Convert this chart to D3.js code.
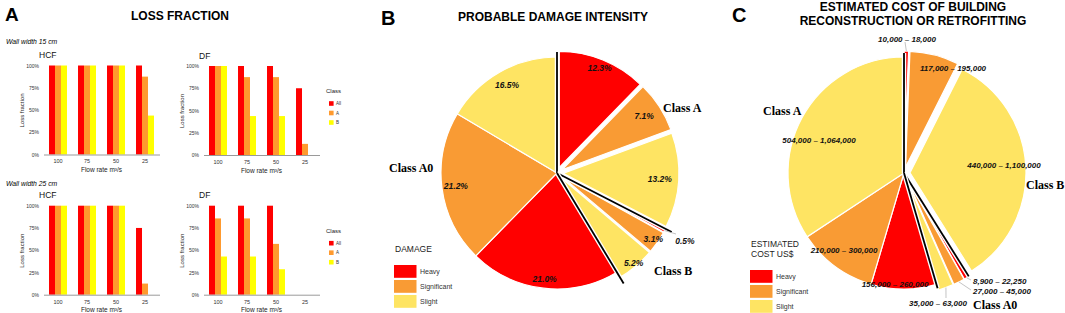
<!DOCTYPE html>
<html>
<head>
<meta charset="utf-8">
<script src="https://cdn.jsdelivr.net/npm/d3@7"></script>
<style>
  body { margin: 0; background: #fff; }
  svg { font-family: "Liberation Sans", Arial, sans-serif; }
</style>
</head>
<body>
<svg id="fig" width="1065" height="313"></svg>
<script>
// ---- panel A : loss fraction ----
var flowRates = ["100", "75", "50", "25"];
var lossClasses = ["All", "A", "B"];
var hcf15All = [1, 1, 1, 1];
var hcf15A   = [1, 1, 1, 0.875];
var hcf15B   = [1, 1, 1, 0.4375];
var df15All  = [1, 1, 1, 0.75];
var df15A    = [1, 0.875, 0.875, 0.125];
var df15B    = [1, 0.4375, 0.4375, 0];
var hcf25All = [1, 1, 1, 0.75];
var hcf25A   = [1, 1, 1, 0.125];
var hcf25B   = [1, 1, 1, 0];
var df25All  = [1, 1, 1, 0];
var df25A    = [0.857, 0.857, 0.571, 0];
var df25B    = [0.429, 0.429, 0.286, 0];
var lossTicks = [0, 0.25, 0.5, 0.75, 1];

// ---- panel B : probable damage intensity (%) ----
var damageLevels = ["Heavy", "Significant", "Slight"];
var damagePct = [12.3, 7.1, 13.2, 0.5, 3.1, 5.2, 21.0, 21.2, 16.5];
var damageGroups = ["Class A", "Class B", "Class A0"];

// ---- panel C : estimated cost (US$) ----
var costRanges = ["10,000 – 18,000", "117,000 – 195,000", "440,000 – 1,100,000",
                  "8,900 – 22,250", "27,000 – 45,000", "35,000 – 63,000",
                  "156,000 – 260,000", "210,000 – 300,000", "504,000 – 1,064,000"];
var costValues = [14000, 156000, 770000, 15575, 36000, 49000, 208000, 255000, 784000];
var costGroups = ["Class B", "Class A0", "Class A"];

var barColors = ["#ff0000", "#ff9a2e", "#ffff00"];
var pieColors = ["#ff0000", "#f99b34", "#fee463"];

var svg = d3.select("#fig");

function txt(x, y, s, size, opts) {
  opts = opts || {};
  return svg.append("text")
    .attr("x", x).attr("y", y)
    .attr("font-size", size)
    .attr("font-weight", opts.bold ? "bold" : null)
    .attr("font-style", opts.italic ? "italic" : null)
    .attr("font-family", opts.serif ? "'Liberation Serif', 'Times New Roman', serif" : null)
    .attr("text-anchor", opts.anchor || "start")
    .attr("fill", opts.fill || "#000")
    .text(s);
}

// panel letters and titles
txt(5, 21, "A", 19, {bold: true});
txt(381, 25, "B", 20, {bold: true});
txt(732, 22, "C", 20, {bold: true});
txt(180, 20, "LOSS FRACTION", 12, {bold: true, anchor: "middle"});
txt(553, 20.5, "PROBABLE DAMAGE INTENSITY", 12, {bold: true, anchor: "middle"});
txt(913, 11, "ESTIMATED COST OF BUILDING", 12, {bold: true, anchor: "middle"});
txt(913, 25, "RECONSTRUCTION OR RETROFITTING", 12, {bold: true, anchor: "middle"});

txt(6, 44, "Wall width 15 cm", 6.8, {italic: true});
txt(6, 186, "Wall width 25 cm", 6.8, {italic: true});

function lossChart(x0, y0, title, all, a, b, legend) {
  var x = d3.scaleBand().domain(flowRates)
      .range([x0, x0 + 116]).paddingInner(0.38).paddingOuter(0.19);
  var xs = d3.scaleBand().domain(lossClasses).range([0, x.bandwidth()]);
  var y = d3.scaleLinear().domain([0, 1]).range([y0, y0 - 89]);
  var g = svg.append("g");
  var series = [all, a, b];

  lossClasses.forEach(function(c, k) {
    g.selectAll(null).data(series[k]).enter().append("rect")
      .attr("x", function(d, i) { return x(flowRates[i]) + xs(c); })
      .attr("y", function(d) { return y(d); })
      .attr("width", xs.bandwidth())
      .attr("height", function(d) { return y0 - y(d); })
      .attr("fill", barColors[k]);
  });

  var ax = g.append("g")
    .attr("transform", "translate(0," + y0 + ")")
    .call(d3.axisBottom(x).tickSize(0).tickSizeOuter(0).tickPadding(5));
  ax.attr("font-size", 5.5).attr("font-family", null);
  ax.select(".domain").attr("stroke", "#9a9a9a");
  ax.selectAll("text").attr("fill", "#333");

  var ay = g.append("g")
    .attr("transform", "translate(" + x0 + ",0)")
    .call(d3.axisLeft(y).tickValues(lossTicks).tickFormat(d3.format(".0%"))
      .tickSize(0).tickPadding(4.5));
  ay.attr("font-size", 5).attr("font-family", null);
  ay.select(".domain").remove();
  ay.selectAll("text").attr("fill", "#333");

  txt(x0 + 58, y0 + 17.5, "Flow rate m³/s", 6.5, {anchor: "middle", fill: "#222"});
  svg.append("text")
    .attr("transform", "translate(" + (x0 - 20) + "," + (y0 - 44) + ") rotate(-90)")
    .attr("text-anchor", "middle").attr("font-size", 6).attr("fill", "#222")
    .text("Loss fraction");
  txt(x0 - 4.5, y0 - 96.5, title, 8.5, {fill: "#111"});

  if (legend) {
    txt(326, y0 - 62, "Class", 6, {fill: "#222"});
    lossClasses.forEach(function(c, k) {
      var cy = y0 - 51.5 + k * 9.5;
      svg.append("rect").attr("x", 329).attr("y", cy - 2.3)
        .attr("width", 4.6).attr("height", 4.6).attr("fill", barColors[k]);
      txt(336, cy + 1.6, c, 4.5, {fill: "#333"});
    });
  }
}

lossChart(43.5, 154.5, "HCF", hcf15All, hcf15A, hcf15B, false);
lossChart(203.5, 155, "DF", df15All, df15A, df15B, true);
lossChart(43.5, 294.7, "HCF", hcf25All, hcf25A, hcf25B, false);
lossChart(203.5, 294.7, "DF", df25All, df25A, df25B, true);

// ---- pies ----
var pieR = 116, explode = 6;

function pieChart(cx, cy, values, lineLens) {
  var arcs = d3.pie().sort(null).value(function(d) { return d; })(values);
  var arc = d3.arc().innerRadius(0).outerRadius(pieR);
  var g = svg.append("g").attr("transform", "translate(" + cx + "," + cy + ")");
  g.selectAll("path.slice").data(arcs).enter().append("path")
    .attr("class", "slice")
    .attr("d", arc)
    .attr("transform", function(d, i) {
      var e = i < 6 ? explode : 0, m = (d.startAngle + d.endAngle) / 2;
      return "translate(" + (e * Math.sin(m)) + "," + (-e * Math.cos(m)) + ")";
    })
    .attr("fill", function(d, i) { return pieColors[i % 3]; })
    .attr("stroke", "#fff").attr("stroke-width", 1.2);

  // black separators between classes
  [0, 3, 6].forEach(function(k, j) {
    var a = arcs[k].startAngle, L = lineLens[j];
    g.append("line").attr("x1", 0).attr("y1", 0)
      .attr("x2", L * Math.sin(a)).attr("y2", -L * Math.cos(a))
      .attr("stroke", "#fff").attr("stroke-width", 4.5);
    g.append("line").attr("x1", 0).attr("y1", 0)
      .attr("x2", L * Math.sin(a)).attr("y2", -L * Math.cos(a))
      .attr("stroke", "#000").attr("stroke-width", 1.8);
  });
  return {g: g, arcs: arcs};
}

function leader(g, x1, y1, x2, y2) {
  g.append("line").attr("x1", x1).attr("y1", y1).attr("x2", x2).attr("y2", y2)
    .attr("stroke", "#b5b5b5").attr("stroke-width", 0.8);
}

function legend(x, y, heading) {
  heading.forEach(function(h, i) { txt(x + 1, y + i * 10, h, 8.5, {fill: "#222"}); });
  var top = y + heading.length * 10 + 3;
  damageLevels.forEach(function(l, k) {
    svg.append("rect").attr("x", x).attr("y", top + k * 15)
      .attr("width", 22.5).attr("height", 12.8).attr("fill", pieColors[k]);
    txt(x + 26, top + k * 15 + 9, l, 7, {fill: "#333"});
  });
}

// panel B
var pB = pieChart(557, 173, damagePct, [121, 129, 129]);
var pctLabelR = [113, 104, 103, 145, 117, 118, 107, 102, 101];
pB.g.selectAll("text.pct").data(pB.arcs).enter().append("text")
  .attr("class", "pct")
  .attr("x", function(d, i) { return pctLabelR[i] * Math.sin((d.startAngle + d.endAngle) / 2); })
  .attr("y", function(d, i) { return -pctLabelR[i] * Math.cos((d.startAngle + d.endAngle) / 2); })
  .attr("dy", "0.35em")
  .attr("text-anchor", "middle")
  .attr("font-size", 8.5).attr("font-weight", "bold").attr("font-style", "italic")
  .attr("fill", "#111")
  .text(function(d) { return d3.format(".1f")(d.data) + "%"; });
(function() {
  var a = (pB.arcs[3].startAngle + pB.arcs[3].endAngle) / 2;
  leader(pB.g, 122 * Math.sin(a), -122 * Math.cos(a), 119, 61);
})();
txt(663, 112, damageGroups[0], 12, {bold: true, serif: true});
txt(654, 275, damageGroups[1], 12, {bold: true, serif: true});
txt(389, 172, damageGroups[2], 12, {bold: true, serif: true});
legend(394, 252, ["DAMAGE"]);

// panel C
var pC = pieChart(904, 173, costValues, [120, 122, 120]);
var costLabelPos = [[3, -134, "middle"], [49, -105, "middle"], [100, -8, "middle"],
                    [69, 108, "start"], [69, 118, "start"], [34, 130, "middle"],
                    [-9, 111, "middle"], [-60, 77, "middle"], [-85, -33, "middle"]];
pC.g.selectAll("text.cost").data(costRanges).enter().append("text")
  .attr("class", "cost")
  .attr("x", function(d, i) { return costLabelPos[i][0]; })
  .attr("y", function(d, i) { return costLabelPos[i][1]; })
  .attr("dy", "0.35em")
  .attr("text-anchor", function(d, i) { return costLabelPos[i][2]; })
  .attr("font-size", 8).attr("font-weight", "bold").attr("font-style", "italic")
  .attr("fill", "#111")
  .text(function(d) { return d; });
[[0, 1, -131], [3, 67, 107], [4, 67, 117], [5, 42, 125]].forEach(function(p) {
  var a = (pC.arcs[p[0]].startAngle + pC.arcs[p[0]].endAngle) / 2;
  leader(pC.g, 122 * Math.sin(a), -122 * Math.cos(a), p[1], p[2]);
});
txt(763, 115, costGroups[2], 12, {bold: true, serif: true});
txt(1026, 189, costGroups[0], 12, {bold: true, serif: true});
txt(973, 309, costGroups[1], 12, {bold: true, serif: true});
legend(750, 247, ["ESTIMATED", "COST US$"]);
</script>
</body>
</html>
